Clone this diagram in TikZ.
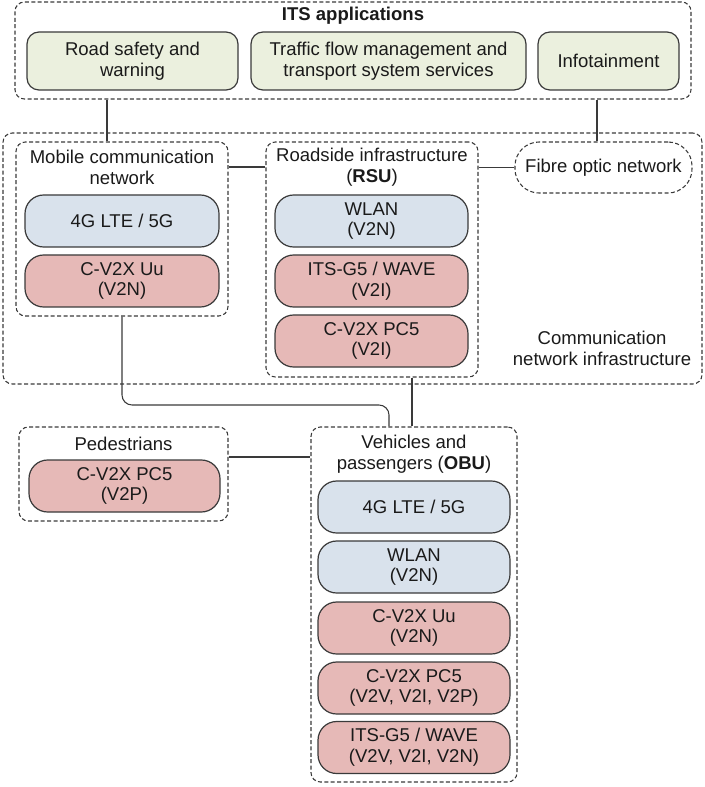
\documentclass[tikz,border=0pt]{standalone}
\usepackage{fontspec}
\setmainfont{Liberation Sans}
\definecolor{appgreen}{HTML}{EBF0DE}
\definecolor{techblue}{HTML}{D9E2EC}
\definecolor{techred}{HTML}{E6B9B7}
\definecolor{edge}{HTML}{3A3A3A}
\definecolor{ink}{HTML}{1A1A1A}
\begin{document}
\begin{tikzpicture}[x=0.75pt,y=-0.75pt,
  sz/.style 2 args={minimum width={#1*0.75pt}, minimum height={#2*0.75pt}},
  txt/.style={font=\fontsize{13.9}{15.6}\selectfont, text=ink, align=center},
  grp/.style={draw=edge, line width=0.8pt, dash pattern=on 3pt off 1.8pt, rounded corners=7pt, inner sep=0pt},
  lbl/.style={txt, inner sep=0pt},
  appbox/.style={txt, draw=edge, line width=0.9pt, fill=appgreen, rounded corners=9pt, inner sep=0pt},
  bluebox/.style={txt, draw=edge, line width=0.9pt, fill=techblue, rounded corners=14pt, inner sep=0pt},
  redbox/.style={txt, draw=edge, line width=0.9pt, fill=techred, rounded corners=14pt, inner sep=0pt},
  link/.style={draw=edge, line width=0.8pt}
]
\useasboundingbox (0,0) rectangle (704,787);

% ITS applications
\node[grp, sz={676}{97}] (its) at (353,50.5) {};
\node[lbl] (itst) at (353,16) {\bfseries ITS applications};
\node[appbox, sz={211}{58}] (road) at (132.5,61) {Road safety and\\warning};
\node[appbox, sz={275}{58}] (traf) at (388.5,61) {Traffic flow management and\\transport system services};
\node[appbox, sz={141}{58}] (info) at (608.5,61) {Infotainment};

% Communication network infrastructure
\node[grp, sz={699}{251}] (comm) at (352.5,258.5) {};
\node[lbl] (commt) at (602,348) {Communication\\network infrastructure};

\node[grp, sz={212}{174}] (mob) at (122,229) {};
\node[lbl] (mobt) at (122,167.5) {Mobile communication\\network};
\node[bluebox, sz={194}{52}] (mlte) at (122,221) {4G LTE / 5G};
\node[redbox, sz={194}{52}] (muu) at (122,281) {C-V2X Uu\\(V2N)};

\node[grp, sz={212}{235}] (rsu) at (372,259.5) {};
\node[lbl] (rsut) at (372,167.5) {Roadside infrastructure\\(\textbf{RSU})};
\node[bluebox, sz={193}{52}] (rwlan) at (371.5,221) {WLAN\\(V2N)};
\node[redbox, sz={193}{52}] (rits) at (371.5,281) {ITS-G5 / WAVE\\(V2I)};
\node[redbox, sz={193}{52}] (rpc5) at (371.5,341) {C-V2X PC5\\(V2I)};

\node[txt, draw=edge, line width=0.8pt, dash pattern=on 3pt off 1.8pt, rounded corners=18pt, inner sep=0pt, sz={177}{51}] (fib) at (603.5,167.5) {Fibre optic network};

% Pedestrians
\node[grp, sz={209}{94}] (ped) at (123.5,474) {};
\node[lbl] (pedt) at (123.5,444) {Pedestrians};
\node[redbox, sz={191}{52}] (ppc5) at (124.5,486) {C-V2X PC5\\(V2P)};

% Vehicles (OBU)
\node[grp, sz={206}{355}] (obu) at (414,604.5) {};
\node[lbl] (obut) at (414,454) {Vehicles and\\passengers (\textbf{OBU})};
\node[bluebox, sz={192}{52}] (olte) at (414,507) {4G LTE / 5G};
\node[bluebox, sz={192}{52}] (owlan) at (414,567) {WLAN\\(V2N)};
\node[redbox, sz={192}{52}] (ouu) at (414,628) {C-V2X Uu\\(V2N)};
\node[redbox, sz={192}{52}] (opc5) at (414,688) {C-V2X PC5\\(V2V, V2I, V2P)};
\node[redbox, sz={192}{52}] (oits) at (414,747.5) {ITS-G5 / WAVE\\(V2V, V2I, V2N)};

% connectors
\coordinate (xa) at (107,0);
\coordinate (xb) at (597,0);
\coordinate (ya) at (0,167);
\coordinate (bend) at (389,405);
\coordinate (xc) at (412,0);
\coordinate (yb) at (0,457);

\draw[link] (its.south -| xa) -- (mob.north -| xa);
\draw[link] (its.south -| xb) -- (fib.north -| xb);
\draw[link] (mob.east |- ya) -- (rsu.west |- ya);
\draw[link] (rsu.east |- fib.west) -- (fib.west);
\draw[link, rounded corners=7.5pt] (mob.south) |- (bend) -- (bend |- obu.north);
\draw[link] (rsu.south -| xc) -- (obu.north -| xc);
\draw[link] (ped.east |- yb) -- (obu.west |- yb);
\end{tikzpicture}
\end{document}
